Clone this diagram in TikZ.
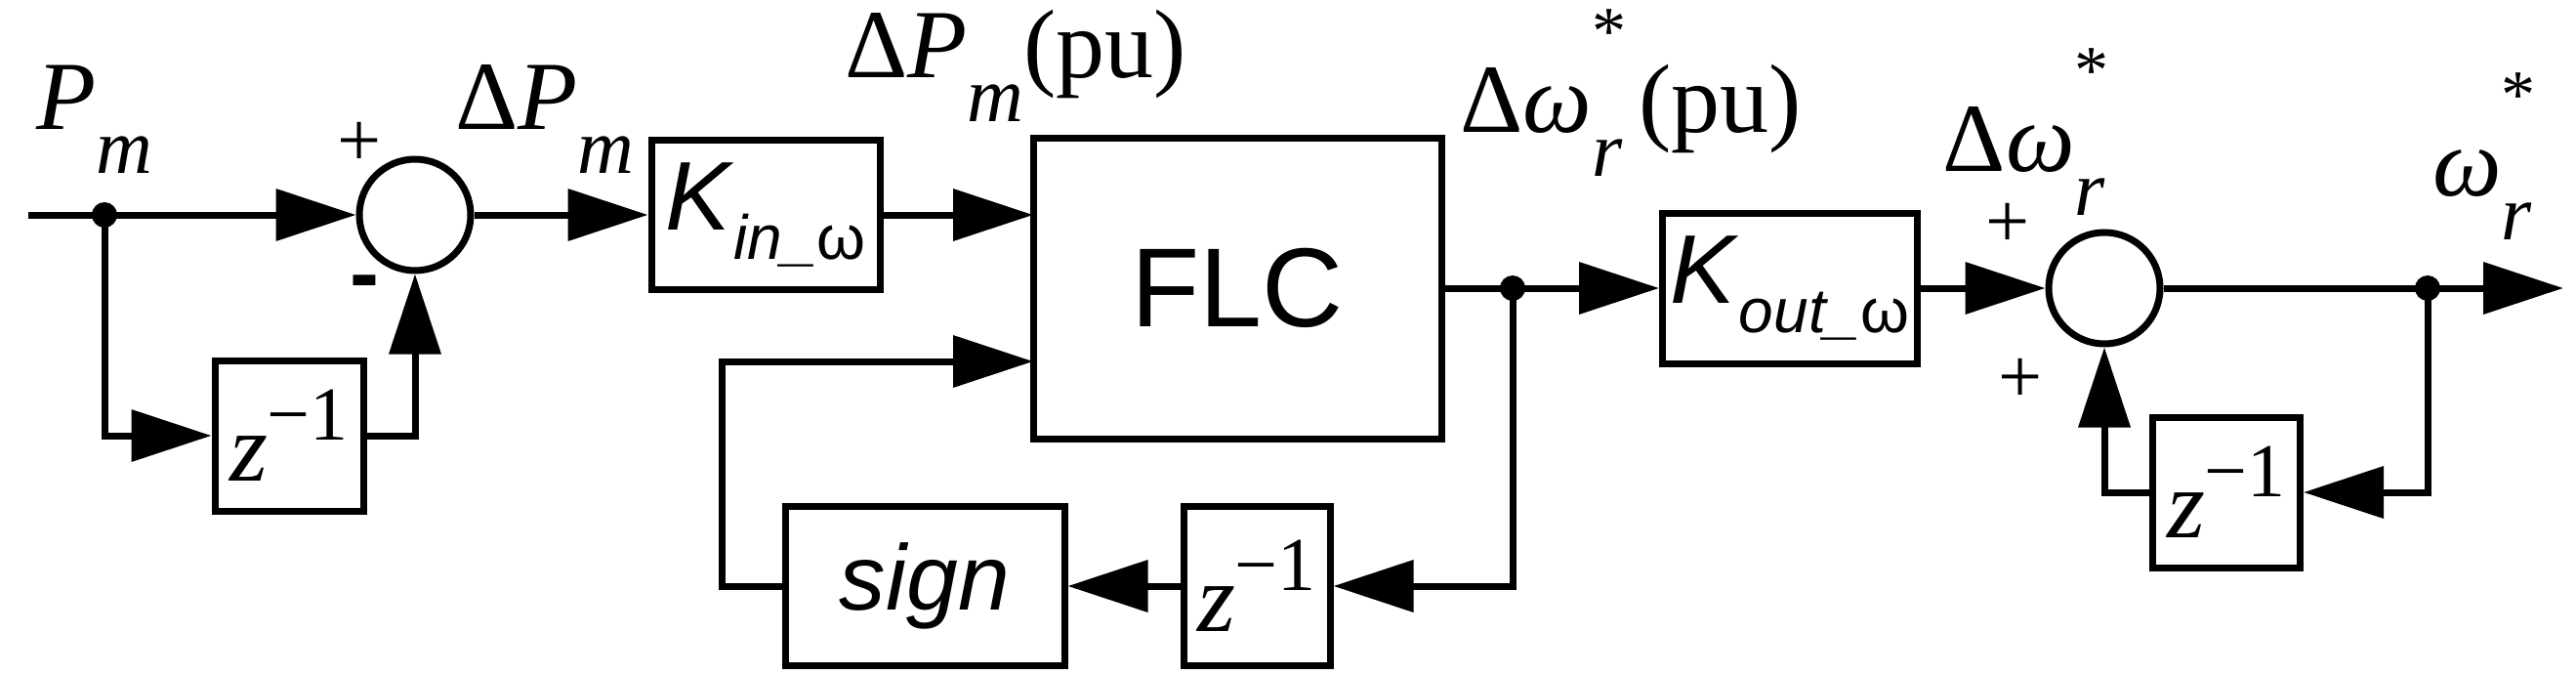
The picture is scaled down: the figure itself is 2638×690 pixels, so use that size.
\documentclass[tikz,border=0pt]{standalone}
\usepackage{fontspec}
\setmainfont{Liberation Serif}
\setsansfont{Liberation Sans}
\usetikzlibrary{arrows.meta}
\newcommand{\fs}[1]{\fontsize{#1}{#1}\selectfont}
\begin{document}
\begin{tikzpicture}[x=1pt,y=-1pt,
  line width=7pt,
  blk/.style={draw,rectangle,inner sep=0pt,line join=miter},
  sum/.style={draw,circle,minimum size=114pt,inner sep=0pt},
  dot/.style={fill,circle,minimum size=26pt,inner sep=0pt},
  arr/.style={-{Triangle[length=82pt,width=52pt]}},
  lbl/.style={inner sep=0pt}]
\useasboundingbox (0,0) rectangle (2638,690);
% nodes
\coordinate (in) at (29,220);
\node[dot] (d1) at (107,220) {};
\node[sum] (s1) at (425,220) {};
\node[blk,minimum width=152pt,minimum height=154pt] (zA) at (296,446) {\fs{100}\textit{z}\raisebox{0.42em}{\fs{78}−1}};
\node[blk,minimum width=234pt,minimum height=153pt] (kin) at (784,220) {\sffamily\fs{100}\textit{K}\raisebox{-0.3em}{\fs{64}\textit{in\_}ω}};
\node[blk,minimum width=418pt,minimum height=308pt] (flc) at (1267,295) {\sffamily\fs{115}FLC};
\coordinate (fl1) at (1058,220);
\coordinate (fl2) at (1058,370);
\coordinate (fb) at (739,370);
\node[blk,minimum width=286pt,minimum height=163pt] (sign) at (947,600) {\sffamily\fs{95}\textit{sign}};
\node[blk,minimum width=150pt,minimum height=163pt] (zB) at (1287,600) {\fs{100}\textit{z}\raisebox{0.42em}{\fs{78}−1}};
\node[dot] (d2) at (1549,295) {};
\node[blk,minimum width=261pt,minimum height=154pt] (kout) at (1833,295) {\sffamily\fs{100}\textit{K}\raisebox{-0.3em}{\fs{64}\textit{out\_}ω}};
\node[sum] (s2) at (2155,295) {};
\node[dot] (d3) at (2486,295) {};
\coordinate (out) at (2625,295);
\node[blk,minimum width=151pt,minimum height=154pt] (zC) at (2280,504) {\fs{100}\textit{z}\raisebox{0.42em}{\fs{78}−1}};
% connectors
\draw[arr] (in) -- (s1.west);
\draw[arr] (d1.center) |- (zA.west);
\draw[arr] (zA.east) -| (s1.south);
\draw[arr] (s1.east) -- (kin.west);
\draw[arr] (kin.east) -- (fl1);
\draw[arr] (sign.west) -| (fb) -- (fl2);
\draw (flc.east) -- (d2.center);
\draw[arr] (d2.center) -- (kout.west);
\draw[arr] (d2.center) |- (zB.east);
\draw[arr] (zB.west) -- (sign.east);
\draw[arr] (kout.east) -- (s2.west);
\draw (s2.east) -- (d3.center);
\draw[arr] (d3.center) -- (out);
\draw[arr] (d3.center) |- (zC.east);
\draw[arr] (zC.west) -| (s2.south);
% labels
\node[lbl] (lPm) at (97,122) {\fs{100}\textit{P}\raisebox{-0.45em}{\fs{80}\textit{m}}};
\node[lbl] (lpl1) at (368,148) {\fs{80}+};
\node[lbl] (lmi1) at (373,296) {\sffamily\bfseries\fs{90}-};
\node[lbl] (ldP) at (558,122) {\fs{100}Δ\textit{P}\raisebox{-0.45em}{\fs{80}\textit{m}}};
\node[lbl] (ldPpu) at (1040,67) {\fs{100}Δ\textit{P}\raisebox{-0.45em}{\fs{80}\textit{m}}(pu)};
\node[lbl] (ldw) at (1670,95) {\fs{100}Δ\textit{ω}\rlap{\raisebox{0.8em}{\fs{70}*}}\raisebox{-0.45em}{\fs{80}\textit{r}}\,(pu)};
\node[lbl] (lpl2) at (2056,231) {\fs{80}+};
\node[lbl] (lpl3) at (2069,390) {\fs{80}+};
\node[lbl] (ldw2) at (2073,135) {\fs{100}Δ\textit{ω}\rlap{\raisebox{0.8em}{\fs{70}*}}\raisebox{-0.45em}{\fs{80}\textit{r}}};
\node[lbl] (lw) at (2542,160) {\fs{100}\textit{ω}\rlap{\raisebox{0.8em}{\fs{70}*}}\raisebox{-0.45em}{\fs{80}\textit{r}}};
\end{tikzpicture}
\end{document}
